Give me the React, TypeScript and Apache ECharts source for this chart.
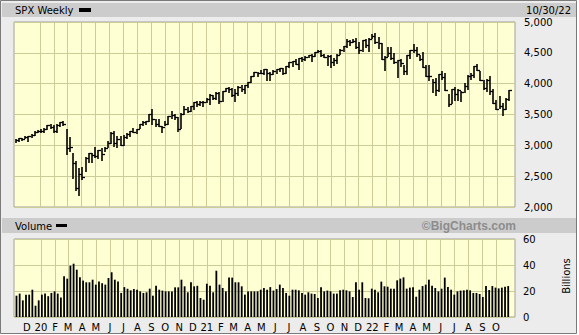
import React, { useEffect, useRef } from 'react';
import * as echarts from 'echarts';

// ---- Data (weekly SPX, first week ending 2019-11-08) ----
const firstWeek = '2019-11-08';

const highs = [
  3097, 3120, 3127, 3154, 3150, 3183, 3226, 3248,
  3258, 3283, 3329, 3338, 3337, 3341, 3385, 3393, 3259, 3137, 2882, 2754, 2637, 2641, 2818, 2880, 2879, 2965, 2932, 2955, 2981, 3068, 3211, 3233, 3155, 3155, 3165, 3200, 3238, 3280, 3272, 3352, 3388, 3399, 3509, 3588, 3425, 3429, 3320, 3398, 3482, 3550, 3502, 3465, 3529, 3645, 3628, 3644, 3699, 3712, 3726, 3712, 3760,
  3826, 3823, 3861, 3870, 3887, 3937, 3950, 3929, 3915, 3960, 3983, 3979, 4020, 4129, 4191, 4194, 4218, 4238, 4237, 4186, 4214, 4234, 4249, 4262, 4286, 4356, 4372, 4394, 4415, 4429, 4441, 4470, 4481, 4513, 4545, 4539, 4486, 4465, 4465, 4412, 4475, 4559, 4608, 4718, 4715, 4718, 4744, 4673, 4713, 4731, 4740, 4808,
  4819, 4749, 4665, 4453, 4595, 4590, 4490, 4385, 4402, 4299, 4465, 4546, 4637, 4593, 4471, 4513, 4308, 4307, 4082, 4091, 4158, 4204, 4169, 3838, 3913, 3946, 3918, 3880, 4013, 4141, 4167, 4280, 4325, 4204, 4062, 4077, 4119, 3907, 3733, 3807, 3685, 3762, 3905,
];

const lows = [
  3050, 3078, 3091, 3113, 3070, 3132, 3166, 3220,
  3212, 3214, 3260, 3280, 3214, 3223, 3315, 3328, 2855, 2901, 2478, 2280, 2192, 2447, 2579, 2727, 2727, 2816, 2798, 2766, 2912, 2969, 3039, 2984, 2966, 3008, 3002, 3127, 3153, 3212, 3200, 3284, 3333, 3354, 3387, 3349, 3310, 3313, 3209, 3323, 3344, 3441, 3419, 3234, 3280, 3511, 3543, 3559, 3595, 3645, 3648, 3636, 3699,
  3663, 3750, 3749, 3694, 3725, 3874, 3865, 3805, 3723, 3814, 3888, 3853, 3949, 4035, 4118, 4118, 4169, 4160, 4057, 4062, 4150, 4167, 4208, 4164, 4165, 4278, 4289, 4320, 4234, 4367, 4385, 4425, 4367, 4444, 4513, 4456, 4428, 4306, 4278, 4300, 4329, 4475, 4537, 4595, 4630, 4672, 4585, 4495, 4531, 4600, 4531, 4733,
  4663, 4582, 4395, 4222, 4451, 4405, 4328, 4115, 4279, 4157, 4161, 4424, 4507, 4450, 4381, 4267, 4128, 4063, 3859, 3811, 3876, 4074, 3901, 3637, 3694, 3738, 3743, 3722, 3871, 3911, 4080, 4112, 4218, 4058, 3907, 3887, 3837, 3693, 3584, 3604, 3492, 3590, 3735,
];

const closes = [
  3093, 3120, 3110, 3141, 3146, 3169, 3221, 3240,
  3235, 3265, 3330, 3295, 3226, 3328, 3380, 3338, 2954, 2972, 2711, 2305, 2541, 2489, 2790, 2875, 2837, 2831, 2930, 2864, 2955, 3044, 3194, 3041, 3098, 3009, 3130, 3185, 3225, 3216, 3271, 3351, 3373, 3397, 3508, 3427, 3341, 3319, 3298, 3348, 3477, 3484, 3465, 3270, 3509, 3585, 3558, 3638, 3699, 3663, 3709, 3703, 3756,
  3824, 3768, 3841, 3714, 3887, 3934, 3907, 3811, 3842, 3943, 3913, 3975, 4020, 4129, 4185, 4180, 4181, 4233, 4174, 4156, 4204, 4230, 4247, 4166, 4281, 4352, 4370, 4327, 4412, 4395, 4437, 4468, 4442, 4509, 4535, 4459, 4433, 4455, 4357, 4391, 4471, 4545, 4605, 4697, 4683, 4698, 4595, 4538, 4712, 4620, 4726, 4766,
  4677, 4663, 4398, 4432, 4500, 4419, 4349, 4385, 4329, 4204, 4463, 4543, 4546, 4488, 4393, 4272, 4132, 4123, 4024, 3901, 4158, 4109, 3901, 3675, 3912, 3825, 3899, 3863, 3962, 4130, 4145, 4280, 4228, 4058, 3924, 4067, 3873, 3693, 3586, 3639, 3583, 3753, 3901,
];

// weekly volume, billions of shares
const volumes = [
  16.4, 18, 12.8, 17.2, 17.2, 21, 8.7, 12.8, 17.2, 18,
  16, 18.5, 19.7, 18, 15, 31.3, 29.5, 39.5, 41, 36.4,
  30.5, 28, 26.7, 26.7, 28.7, 24.9, 27.4, 26, 24.9, 30,
  34.4, 28.7, 27.4, 18.5, 23, 21.8, 20.5, 21.5, 21, 19.7,
  18.5, 19, 21.8, 16.4, 24, 21, 20.3, 19.7, 19.7, 19.7,
  22.8, 22.8, 28.7, 23.6, 19, 26.7, 23.6, 24, 14.6, 13.3,
  25.6, 24, 19, 35.6, 24.9, 22.3, 19.7, 30.3, 30.3, 26.7,
  26.7, 23.6, 17.2, 19.7, 19.7, 19.7, 19.7, 21, 22.3, 21,
  23, 20.3, 21.5, 24.9, 22.3, 18.5,
  16.4, 21, 21, 20.5, 18.5, 17.2, 19, 18, 17.7, 14.6,
  22.8, 19.7, 20.3, 19.7, 18, 18, 20.5, 21, 20.5, 19.7,
  15.4, 26.7, 21, 26.7, 14.6, 14.4, 21.8, 21, 19, 27.2,
  23.6, 23.3, 21.8, 21.8, 28.2, 29.5, 30.5, 21.8, 22.6, 22.8,
  15.6, 21, 23.8, 24.9, 28.7, 24, 22.3, 19.7, 21.8, 30.3,
  23, 21, 17.2, 19.7, 20.3, 20.5, 21, 20.5, 18.5, 18.5,
  17.7, 15.4, 23.8, 20.8, 23.8, 22.6, 22, 22.6, 23.3, 23.8,
];

const priceTicks = [2000, 2500, 3000, 3500, 4000, 4500, 5000];
const volumeTicks = [0, 20, 40, 60];
const monthLetters = ['', 'F', 'M', 'A', 'M', 'J', 'J', 'A', 'S', 'O', 'N', 'D'];
const axisStart = '2019-11-04T12:00:00Z';
const axisEnd = '2022-11-10T00:00:00Z';

const W = 579;
const H = 335;
const GRID_COLOR = '#CCCC99';
const PLOT_BG = '#FFFFD4';
const FONT = 'DejaVu Sans';

function App() {
  const ref = useRef<HTMLDivElement>(null);

  useEffect(() => {
    document.body.style.margin = '0';
    const chart = echarts.init(ref.current as HTMLDivElement, null, { renderer: 'svg', width: W, height: H });
    const DAY = 86400000;
    const t0 = Date.parse(firstWeek + 'T00:00:00Z');
    const weekTimes = closes.map((_, i) => t0 + i * 7 * DAY);
    const lastTime = weekTimes[weekTimes.length - 1];
    const ohlc = weekTimes.map((t, i) => [t, lows[i], highs[i], closes[i]]);
    const vol = weekTimes.map((t, i) => [t, volumes[i]]);
    const xMin = Date.parse(axisStart);
    const xMax = Date.parse(axisEnd);

    const monthLines: { xAxis: number }[] = [];
    for (let y = 2020; y <= 2022; y++) {
      for (let m = 0; m < 12; m++) {
        const t = Date.UTC(y, m, 1);
        if (t <= lastTime) monthLines.push({ xAxis: t });
      }
    }

    const markLine = {
      silent: true,
      symbol: ['none', 'none'],
      label: { show: false },
      lineStyle: { color: GRID_COLOR, type: 'solid', width: 1 },
      data: monthLines,
      animation: false,
    };

    const textStyle = { fontFamily: FONT, fontSize: 10, fill: '#000' };

    chart.setOption({
      animation: false,
      useUTC: true,
      backgroundColor: 'transparent',
      grid: [
        { left: 14, top: 22, width: 501, height: 185, show: true, backgroundColor: PLOT_BG, borderColor: '#A0A0A0', borderWidth: 1 },
        { left: 14, top: 239, width: 501, height: 78, show: true, backgroundColor: PLOT_BG, borderColor: '#A0A0A0', borderWidth: 1 },
      ],
      xAxis: [
        {
          type: 'time', gridIndex: 0, min: xMin, max: xMax,
          axisLine: { show: false }, axisTick: { show: false }, axisLabel: { show: false }, splitLine: { show: false },
        },
        {
          type: 'time', gridIndex: 1, min: xMin, max: xMax,
          minInterval: 28 * DAY, maxInterval: 31 * DAY,
          axisLine: { show: false }, axisTick: { show: false }, splitLine: { show: false },
          axisLabel: {
            show: true, margin: 5, color: '#000', fontFamily: FONT, fontSize: 10,
            showMinLabel: false, showMaxLabel: false,
            formatter: (v: number) => {
              const d = new Date(v);
              if (v > lastTime || d.getUTCDate() !== 1) return '';
              const m = d.getUTCMonth();
              return m === 0 ? String(d.getUTCFullYear()).slice(2) : monthLetters[m];
            },
          },
        },
      ],
      yAxis: [
        {
          type: 'value', gridIndex: 0, position: 'right', min: priceTicks[0], max: priceTicks[priceTicks.length - 1], interval: 500,
          axisLine: { show: false }, axisTick: { show: false },
          splitLine: { show: true, lineStyle: { color: GRID_COLOR, width: 1 } },
          axisLabel: {
            margin: 9, color: '#000', fontFamily: FONT, fontSize: 10,
            formatter: (v: number) => v.toLocaleString('en-US'),
          },
        },
        {
          type: 'value', gridIndex: 1, position: 'right', min: volumeTicks[0], max: volumeTicks[volumeTicks.length - 1], interval: 20,
          axisLine: { show: false }, axisTick: { show: false },
          splitLine: { show: true, lineStyle: { color: GRID_COLOR, width: 1 } },
          axisLabel: { margin: 8, color: '#000', fontFamily: FONT, fontSize: 10 },
        },
      ],
      series: [
        { type: 'line', xAxisIndex: 0, yAxisIndex: 0, data: [], z: 1, markLine },
        { type: 'line', xAxisIndex: 1, yAxisIndex: 1, data: [], z: 1, markLine },
        {
          type: 'custom', xAxisIndex: 0, yAxisIndex: 0, z: 5, data: ohlc,
          renderItem: (params: any, api: any) => {
            const t = api.value(0);
            const lo = api.coord([t, api.value(1)]);
            const hi = api.coord([t, api.value(2)]);
            const c = api.coord([t, api.value(3)]);
            const x = Math.round(lo[0]);
            const cy = Math.round(c[1]) + 0.5;
            return {
              type: 'group',
              children: [
                { type: 'line', shape: { x1: x, y1: Math.round(lo[1]) + 1, x2: x, y2: Math.round(hi[1]) }, style: { stroke: '#000', lineWidth: 1.6 } },
                { type: 'line', shape: { x1: x, y1: cy, x2: x + 3, y2: cy }, style: { stroke: '#000', lineWidth: 1.3 } },
              ],
            };
          },
        },
        {
          type: 'bar', xAxisIndex: 1, yAxisIndex: 1, z: 5, data: vol, barWidth: 1.8,
          itemStyle: { color: '#000' },
        },
      ],
      graphic: [
        { type: 'rect', z: -10, shape: { x: 0.5, y: 0.5, width: 576, height: 333 }, style: { fill: '#ECECEC', stroke: '#7A7A7A', lineWidth: 1 } },
        { type: 'rect', z: -9, shape: { x: 2, y: 3, width: 574, height: 14 }, style: { fill: '#CCCCCC' } },
        { type: 'rect', z: -9, shape: { x: 2, y: 218, width: 574, height: 15 }, style: { fill: '#CCCCCC' } },
        { type: 'text', x: 15, y: 10, style: { ...textStyle, text: 'SPX Weekly', textVerticalAlign: 'middle' } },
        { type: 'rect', shape: { x: 79, y: 8, width: 12, height: 4 }, style: { fill: '#000' } },
        { type: 'text', x: 571, y: 10, style: { ...textStyle, text: '10/30/22', textAlign: 'right', textVerticalAlign: 'middle' } },
        { type: 'text', x: 15, y: 226, style: { ...textStyle, text: 'Volume', textVerticalAlign: 'middle' } },
        { type: 'rect', shape: { x: 56, y: 224, width: 11, height: 3 }, style: { fill: '#000' } },
        { type: 'text', x: 516, y: 226, style: { fontFamily: 'Liberation Sans', fontSize: 12, fontWeight: 'bold', fill: '#8C8C8C', text: '©BigCharts.com', textAlign: 'right', textVerticalAlign: 'middle' } },
        { type: 'text', x: 566, y: 276, rotation: Math.PI / 2, style: { ...textStyle, text: 'Billions', textAlign: 'center', textVerticalAlign: 'middle' } },
      ],
    });

    return () => chart.dispose();
  }, []);

  return <div ref={ref} style={{ position: 'absolute', left: 0, top: 0, width: W, height: H }} />;
}

export default App;
